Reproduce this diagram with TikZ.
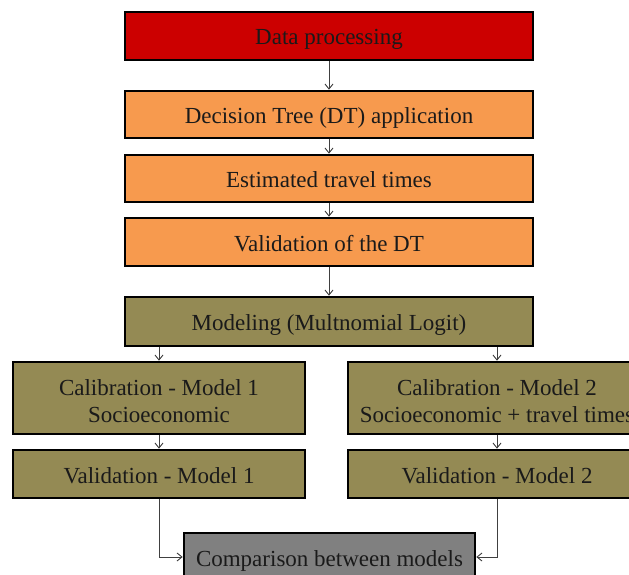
\documentclass[tikz,border=0pt]{standalone}
\usepackage{fontspec}
\setmainfont{Liberation Serif}
\usetikzlibrary{arrows.meta}
\definecolor{cred}{HTML}{CC0000}
\definecolor{corange}{HTML}{F79A4E}
\definecolor{colive}{HTML}{948A54}
\definecolor{cgray}{HTML}{808080}
\definecolor{ctext}{HTML}{1A1A1A}
\definecolor{cline}{HTML}{404040}
\tikzset{
  box/.style={draw=black, line width=2.6pt, rectangle, inner sep=0pt, align=center,
    text=ctext, font=\fontsize{23}{27}\selectfont},
  oneline/.style={text height=20pt, text depth=2pt},
  twoline/.style={text height=49pt, text depth=1pt},
  wide/.style={box, oneline, minimum width=408pt, minimum height=48pt},
  side/.style={box, minimum width=292pt},
  conn/.style={draw=cline, line width=0.9pt, -{Straight Barb[length=5pt,width=8pt,line width=0.9pt]}}
}
\begin{document}
\begin{tikzpicture}[x=1pt,y=-1pt]
\useasboundingbox (0,0) rectangle (629,575);
\clip (0,0) rectangle (629,575);
\fill[white] (0,0) rectangle (629,575);
\node[wide, fill=cred] (dp) at (329,36) {Data processing};
\node[wide, fill=corange, minimum height=47pt] (dt) at (329,114.5) {Decision Tree (DT) application};
\node[wide, fill=corange, minimum height=47pt] (est) at (329,178.5) {Estimated travel times};
\node[wide, fill=corange] (vdt) at (329,242) {Validation of the DT};
\node[wide, fill=colive, minimum height=49pt] (mod) at (329,321.5) {Modeling (Multnomial Logit)};
\node[side, twoline, fill=colive, minimum height=72pt] (cal1) at (159,398) {Calibration - Model 1\\Socioeconomic};
\node[side, oneline, fill=colive, minimum height=48pt] (val1) at (159,474) {Validation - Model 1};
\node[side, twoline, fill=colive, minimum width=298pt, minimum height=72pt] (cal2) at (497,398) {Calibration - Model 2\\Socioeconomic + travel times};
\node[side, oneline, fill=colive, minimum width=298pt, minimum height=48pt] (val2) at (497,474) {Validation - Model 2};
\node[box, oneline, fill=cgray, minimum width=291pt, minimum height=48pt] (cmp) at (329.5,557) {Comparison between models};
\draw[conn] (dp) -- (dt);
\draw[conn] (dt) -- (est);
\draw[conn] (est) -- (vdt);
\draw[conn] (vdt) -- (mod);
\draw[conn] (mod.south -| cal1.north) -- (cal1.north);
\draw[conn] (mod.south -| cal2.north) -- (cal2.north);
\draw[conn] (cal1) -- (val1);
\draw[conn] (cal2) -- (val2);
\draw[conn] (val1.south) |- (cmp.west);
\draw[conn] (val2.south) |- (cmp.east);
\end{tikzpicture}
\end{document}
